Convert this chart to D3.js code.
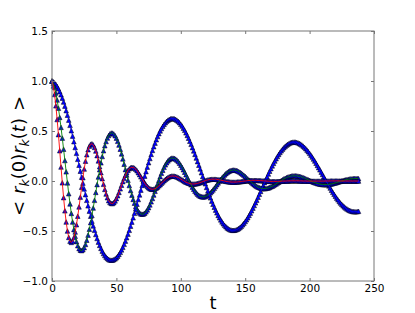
<!DOCTYPE html>
<html>
<head>
<meta charset="utf-8">
<script src="https://cdn.jsdelivr.net/npm/d3@7"></script>
<style>
body { margin: 0; background: #fff; }
svg { display: block; font-family: "DejaVu Sans", sans-serif; }
</style>
</head>
<body>
<svg id="chart"></svg>
<script>
// time axis of the samples: t = tStart + i * tStep
const tStart = 0, tStep = 1;

// <r_k(0) r_k(t)> for the three modes
const mode1 = [
  1, .993, .981, .966, .946, .922, .894, .863, .829, .790,
  .749, .704, .658, .609, .557, .504, .449, .393, .335, .277,
  .217, .158, .098, .038, -.021, -.079, -.136, -.193, -.248, -.301,
  -.352, -.401, -.449, -.493, -.535, -.575, -.611, -.644, -.674, -.701,
  -.725, -.745, -.761, -.774, -.784, -.790, -.792, -.791, -.786, -.778,
  -.767, -.752, -.734, -.713, -.689, -.663, -.633, -.601, -.567, -.531,
  -.493, -.452, -.411, -.368, -.323, -.278, -.232, -.185, -.139, -.091,
  -.044, .002, .049, .094, .139, .183, .225, .266, .306, .343,
  .379, .413, .445, .474, .501, .525, .547, .566, .583, .597,
  .608, .616, .622, .624, .625, .622, .616, .608, .597, .584,
  .568, .550, .529, .507, .482, .456, .428, .398, .367, .334,
  .301, .266, .230, .194, .158, .121, .083, .046, .009, -.027,
  -.064, -.099, -.134, -.168, -.201, -.232, -.262, -.291, -.318, -.344,
  -.367, -.389, -.409, -.427, -.443, -.456, -.469, -.478, -.485, -.490,
  -.493, -.493, -.492, -.488, -.482, -.474, -.464, -.452, -.438, -.423,
  -.405, -.387, -.367, -.344, -.321, -.297, -.271, -.245, -.218, -.191,
  -.162, -.133, -.104, -.075, -.045, -.016, .013, .042, .070, .098,
  .124, .151, .176, .200, .223, .245, .266, .285, .302, .319,
  .333, .346, .358, .367, .375, .382, .386, .389, .390, .389,
  .386, .382, .376, .369, .360, .349, .337, .324, .309, .294,
  .277, .259, .240, .220, .200, .178, .156, .134, .112, .089,
  .066, .043, .019, -.003, -.026, -.049, -.070, -.092, -.113, -.133,
  -.152, -.171, -.188, -.205, -.220, -.234, -.248, -.259, -.270, -.279,
  -.288, -.294, -.299, -.304, -.306, -.307, -.307, -.306, -.303
];
const mode2 = [
  1, .976, .935, .880, .810, .728, .636, .536, .429, .318,
  .205, .092, -.019, -.127, -.229, -.324, -.410, -.486, -.552, -.606,
  -.647, -.676, -.692, -.696, -.687, -.666, -.634, -.592, -.541, -.482,
  -.416, -.345, -.270, -.193, -.114, -.036, .040, .113, .182, .245,
  .303, .353, .395, .430, .455, .472, .480, .479, .470, .453,
  .429, .397, .360, .318, .271, .221, .168, .114, .060, .007,
  -.045, -.095, -.141, -.184, -.222, -.255, -.282, -.304, -.319, -.329,
  -.332, -.330, -.322, -.308, -.289, -.266, -.239, -.208, -.175, -.140,
  -.103, -.066, -.029, .008, .044, .077, .108, .137, .162, .183,
  .201, .214, .223, .229, .229, .226, .219, .209, .195, .178,
  .158, .136, .113, .088, .062, .036, .011, -.014, -.038, -.061,
  -.082, -.101, -.118, -.131, -.143, -.151, -.156, -.159, -.159, -.155,
  -.149, -.141, -.131, -.118, -.104, -.089, -.072, -.055, -.037, -.019,
  -.001, .016, .032, .047, .061, .074, .085, .094, .101, .106,
  .109, .110, .109, .106, .101, .095, .087, .078, .068, .057,
  .046, .033, .021, .009, -.003, -.015, -.026, -.036, -.046, -.054,
  -.061, -.066, -.071, -.074, -.075, -.076, -.075, -.072, -.069, -.064,
  -.058, -.052, -.045, -.037, -.029, -.020, -.012, -.003, .005, .013,
  .021, .027, .034, .039, .043, .047, .050, .052, .052, .052,
  .051, .049, .046, .043, .039, .034, .029, .023, .018, .012,
  .006, .000, -.005, -.011, -.016, -.020, -.025, -.028, -.031, -.033,
  -.035, -.036, -.036, -.036, -.035, -.033, -.031, -.029, -.026, -.022,
  -.019, -.015, -.011, -.007, -.003, .001, .005, .009, .012, .015,
  .018, .020, .022, .023, .024, .025, .025, .025, .024
];
const mode3 = [
  1, .950, .865, .752, .615, .464, .303, .140, -.018, -.166,
  -.298, -.410, -.500, -.564, -.602, -.614, -.601, -.565, -.510, -.437,
  -.352, -.259, -.161, -.062, .033, .120, .198, .263, .313, .349,
  .368, .372, .361, .336, .300, .254, .201, .143, .083, .024,
  -.033, -.084, -.130, -.167, -.196, -.215, -.224, -.225, -.216, -.199,
  -.176, -.147, -.114, -.078, -.042, -.006, .027, .058, .084, .106,
  .122, .132, .137, .135, .129, .118, .103, .084, .064, .042,
  .020, -.001, -.021, -.039, -.055, -.067, -.076, -.081, -.083, -.081,
  -.077, -.069, -.060, -.048, -.036, -.022, -.009, .004, .016, .026,
  .035, .042, .047, .050, .050, .049, .046, .041, .035, .028,
  .020, .012, .004, -.004, -.011, -.017, -.022, -.026, -.029, -.030,
  -.030, -.029, -.027, -.024, -.020, -.016, -.011, -.006, -.001, .003,
  .008, .011, .014, .016, .018, .018, .018, .018, .016, .014,
  .012, .009, .006, .003, 0, -.003, -.005, -.007, -.009, -.010,
  -.011, -.011, -.011, -.010, -.009, -.008, -.007, -.005, -.003, -.001,
  0, .002, .004, .005, .006, .006, .007, .007, .007, .006,
  .006, .005, .004, .003, .002, .001, 0, -.001, -.002, -.003,
  -.004, -.004, -.004, -.004, -.004, -.004, -.003, -.003, -.002, -.001,
  -.001, 0, 0, .001, .001, .002, .002, .002, .002, .002,
  .002, .002, .001, .001, .001, 0, 0, 0, -.001, -.001,
  -.001, -.001, -.001, -.001, -.001, -.001, -.001, -.001, -.001, -.001,
  -.001, -.001, 0, 0, 0, 0, .001, .001, .001, .001,
  .001, .001, .001, .001, 0, 0, 0, 0, 0, 0,
  0, 0, 0, 0, 0, 0, 0, 0, 0
];

const xTicks = [0, 50, 100, 150, 200, 250];
const yTicks = [-1.0, -0.5, 0.0, 0.5, 1.0, 1.5];

const series = [
  { name: "k=1", values: mode1, color: "#0000ff" },
  { name: "k=2", values: mode2, color: "#008000" },
  { name: "k=3", values: mode3, color: "#ff0000" }
];

const width = 415, height = 313;
const margin = { top: 31, right: 41, bottom: 32, left: 52 };
const spine = "#777";

const svg = d3.select("#chart")
    .attr("width", width)
    .attr("height", height);

svg.append("rect")
    .attr("width", width)
    .attr("height", height)
    .attr("fill", "#fff");

const x = d3.scaleLinear().domain([0, 250]).range([margin.left, width - margin.right]);
const y = d3.scaleLinear().domain([-1, 1.5]).range([height - margin.bottom, margin.top]);

const tOf = i => tStart + i * tStep;

// markers first (blue triangles, black edge), then the lines on top
const tri = "M0,-2.3L-2.3,2.3L2.3,2.3Z";
const plot = svg.append("g");

series.forEach(s => {
    plot.append("g")
        .selectAll("path")
        .data(s.values)
        .join("path")
        .attr("d", tri)
        .attr("transform", (d, i) => `translate(${x(tOf(i))},${y(d)})`)
        .attr("fill", "#0000ff")
        .attr("stroke", "#000")
        .attr("stroke-width", 0.5);
});

const line = d3.line()
    .x((d, i) => x(tOf(i)))
    .y(d => y(d));

series.forEach(s => {
    plot.append("path")
        .datum(s.values)
        .attr("d", line)
        .attr("fill", "none")
        .attr("stroke", s.color)
        .attr("stroke-width", 0.9);
});

// axes: ticks point inward on all four sides
function styleAxis(g) {
    g.select(".domain").remove();
    g.selectAll(".tick line").attr("stroke", spine);
    g.selectAll(".tick text")
        .attr("fill", "#000")
        .attr("font-size", "10.5px")
        .attr("font-family", "DejaVu Sans, sans-serif");
}

svg.append("g")
    .attr("transform", `translate(0,${y(-1)})`)
    .call(d3.axisBottom(x).tickValues(xTicks).tickFormat(d3.format("d"))
        .tickSizeInner(-3).tickSizeOuter(0).tickPadding(4))
    .call(styleAxis);

svg.append("g")
    .attr("transform", `translate(0,${y(1.5)})`)
    .call(d3.axisTop(x).tickValues(xTicks).tickFormat("")
        .tickSizeInner(-3).tickSizeOuter(0))
    .call(styleAxis);

svg.append("g")
    .attr("transform", `translate(${x(0)},0)`)
    .call(d3.axisLeft(y).tickValues(yTicks).tickFormat(d3.format(".1f"))
        .tickSizeInner(-3).tickSizeOuter(0).tickPadding(4))
    .call(styleAxis);

svg.append("g")
    .attr("transform", `translate(${x(250)},0)`)
    .call(d3.axisRight(y).tickValues(yTicks).tickFormat("")
        .tickSizeInner(-3).tickSizeOuter(0))
    .call(styleAxis);

// frame
svg.append("rect")
    .attr("x", x(0))
    .attr("y", y(1.5))
    .attr("width", x(250) - x(0))
    .attr("height", y(-1) - y(1.5))
    .attr("fill", "none")
    .attr("stroke", spine)
    .attr("stroke-width", 1);

// x label
svg.append("text")
    .attr("x", (x(0) + x(250)) / 2)
    .attr("y", 309)
    .attr("text-anchor", "middle")
    .attr("font-size", "18px")
    .text("t");

// y label: <r_k(0) r_k(t)>
const yParts = [
    { t: "<" },
    { t: "r", it: true, dx: 7 },
    { t: "k", it: true, sub: true },
    { t: "(0)" },
    { t: "r", it: true },
    { t: "k", it: true, sub: true },
    { t: "(" },
    { t: "t", it: true },
    { t: ")" },
    { t: ">", dx: 7 }
];

const ylab = svg.append("text")
    .attr("transform", `translate(25,${(y(-1) + y(1.5)) / 2}) rotate(-90)`)
    .attr("text-anchor", "middle")
    .attr("font-size", "18px");

let shift = 0;
yParts.forEach(p => {
    const dy = p.sub ? 4 : 0;
    ylab.append("tspan")
        .attr("dx", p.dx || 0)
        .attr("dy", dy - shift)
        .attr("font-style", p.it ? "italic" : null)
        .attr("font-size", p.sub ? "12.5px" : null)
        .text(p.t);
    shift = dy;
});
</script>
</body>
</html>
